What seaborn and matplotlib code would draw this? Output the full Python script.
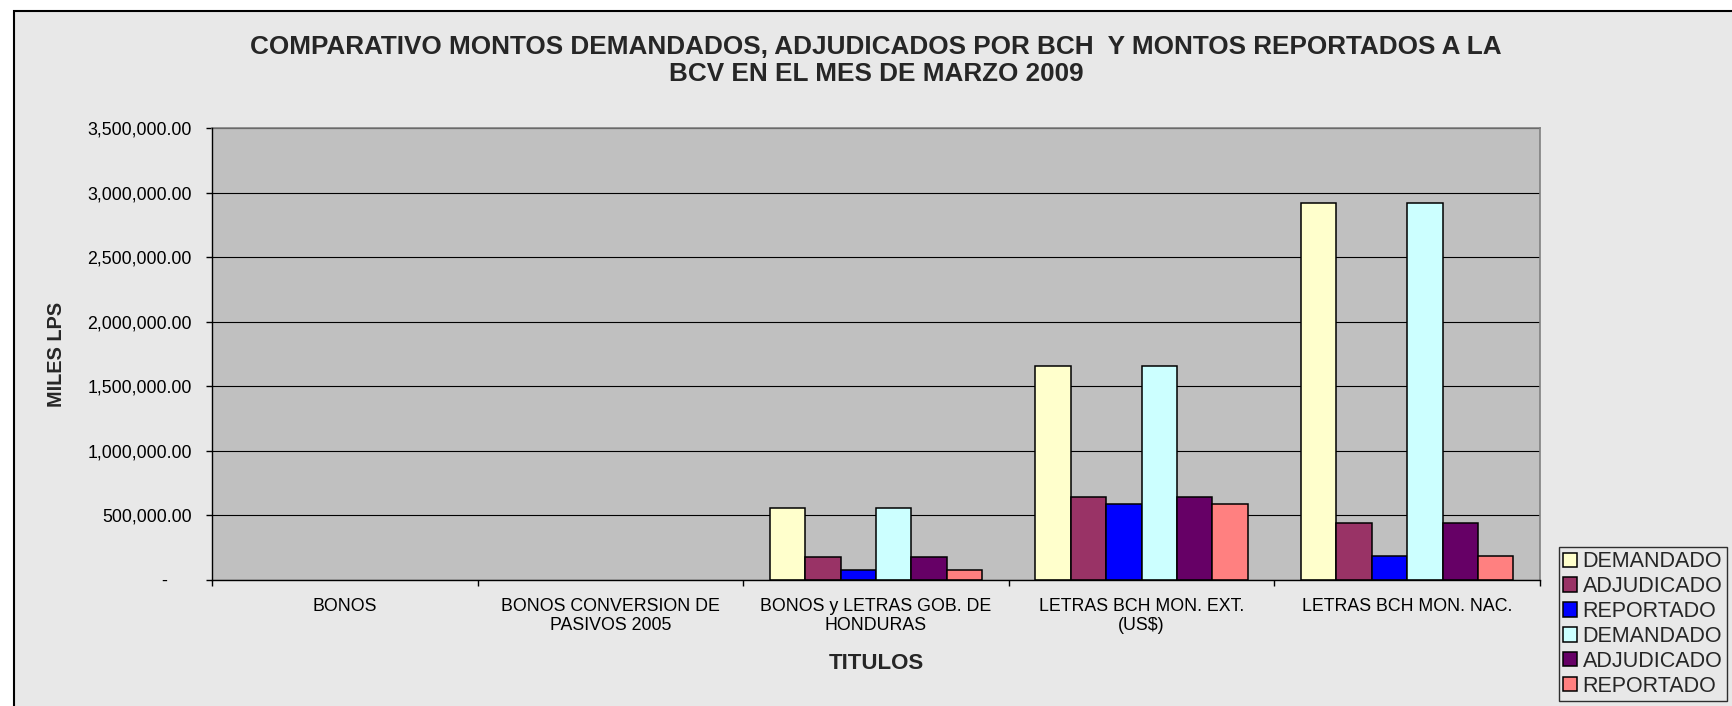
import numpy as np
import pandas as pd
import matplotlib
matplotlib.use("Agg")
import matplotlib.pyplot as plt
from matplotlib.patches import Rectangle, Patch
from matplotlib.ticker import FuncFormatter, MultipleLocator, FixedLocator
import seaborn as sns

# ── Data ──────────────────────────────────────────────────────
categories = [
    "BONOS",
    "BONOS CONVERSION DE\nPASIVOS 2005",
    "BONOS y LETRAS GOB. DE\nHONDURAS",
    "LETRAS BCH MON. EXT.\n(US$)",
    "LETRAS BCH MON. NAC.",
]
series_keys = ["dem_bch", "adj_bch", "rep_bch", "dem_bcv", "adj_bcv", "rep_bcv"]
legend_labels = ["DEMANDADO", "ADJUDICADO", "REPORTADO",
                 "DEMANDADO", "ADJUDICADO", "REPORTADO"]
series_colors = ["#FFFFCC", "#993366", "#0000FF", "#CCFFFF", "#660066", "#FF8080"]

demandado_bch = [0, 0, 555000, 1657000, 2918000]
adjudicado_bch = [0, 0, 176000, 645000, 439000]
reportado_bch = [0, 0, 75000, 586000, 186000]
demandado_bcv = [0, 0, 555000, 1657000, 2918000]
adjudicado_bcv = [0, 0, 176000, 645000, 439000]
reportado_bcv = [0, 0, 75000, 586000, 186000]

values = [demandado_bch, adjudicado_bch, reportado_bch,
          demandado_bcv, adjudicado_bcv, reportado_bcv]

rows = []
for key, vals in zip(series_keys, values):
    for cat, v in zip(categories, vals):
        rows.append({"titulo": cat, "serie": key, "monto": v})
df = pd.DataFrame(rows)

# ── Style ─────────────────────────────────────────────────────
sns.set_style("white")
plt.rcParams["font.family"] = ["Liberation Sans", "DejaVu Sans"]

W, H = 1733, 706
BG = "#E8E8E8"
fig = plt.figure(figsize=(W / 100, H / 100), dpi=100, facecolor="white")

# chart-area border (runs off the right / bottom edge)
fig.add_artist(Rectangle((14 / W, -0.05), 1.2, 1 - 11 / H + 0.05,
                         transform=fig.transFigure, facecolor=BG,
                         edgecolor="black", linewidth=1.5, zorder=0))

ax = fig.add_axes([212 / W, 1 - 580 / H, (1540 - 212) / W, (580 - 128) / H])
ax.set_facecolor("#C0C0C0")

sns.barplot(data=df, x="titulo", y="monto", hue="serie",
            order=categories, hue_order=series_keys,
            palette=dict(zip(series_keys, series_colors)), saturation=1,
            edgecolor="black", linewidth=1.1, width=0.8,
            legend=False, ax=ax, zorder=2)

# empty bars draw nothing in the original
for bar in ax.patches:
    if bar.get_height() == 0:
        bar.set_visible(False)

ax.set_ylim(0, 3500000)
ax.set_xlim(-0.5, len(categories) - 0.5)
ax.yaxis.set_major_locator(MultipleLocator(500000))
ax.yaxis.set_major_formatter(FuncFormatter(
    lambda v, p: "-     " if v == 0 else f"{v:,.2f}"))
ax.grid(axis="y", color="black", linewidth=0.8)
ax.set_axisbelow(True)

for side in ["top", "right"]:
    ax.spines[side].set_color("#808080")
    ax.spines[side].set_linewidth(1.2)
for side in ["left", "bottom"]:
    ax.spines[side].set_color("black")
    ax.spines[side].set_linewidth(1.0)
    ax.spines[side].set_zorder(3)

ax.tick_params(axis="y", which="major", left=True, length=4, width=1,
               color="black", pad=10.5, labelsize=12.8, labelcolor="black")
ax.tick_params(axis="x", which="major", bottom=False, length=0, pad=13,
               labelsize=12.8, labelcolor="black")
ax.xaxis.set_minor_locator(FixedLocator(np.arange(-0.5, len(categories), 1.0)))
ax.tick_params(axis="x", which="minor", bottom=True, length=4, width=1,
               color="black")
for lbl in ax.get_xticklabels():
    lbl.set_ha("center")
    lbl.set_linespacing(1.15)

ax.set_xlabel("TITULOS", fontsize=16, fontweight="bold")
ax.xaxis.set_label_coords(0.5, (580 - 663.5) / 452)
ax.xaxis.label.set_va("center")
ax.set_ylabel("MILES LPS", fontsize=14.3, fontweight="bold")
ax.yaxis.set_label_coords((57 - 212) / 1328, 0.5)
ax.yaxis.label.set_va("center")

fig.text(876 / W, 1 - 60.5 / H,
         "COMPARATIVO MONTOS DEMANDADOS, ADJUDICADOS POR BCH  Y MONTOS REPORTADOS A LA\n"
         "BCV EN EL MES DE MARZO 2009",
         ha="center", va="center", fontsize=18.8, fontweight="bold",
         linespacing=1.18)

handles = [Patch(facecolor=c, edgecolor="black", linewidth=1.1)
           for c in series_colors]
leg = fig.legend(handles, legend_labels, loc="upper left",
                 bbox_to_anchor=(1559 / W, 1 - 547 / H),
                 fontsize=15.5, frameon=True, fancybox=False,
                 handlelength=0.65, handleheight=0.65, handletextpad=0.25,
                 labelspacing=0.18, borderpad=0.2, borderaxespad=0)
leg.get_frame().set_edgecolor("black")
leg.get_frame().set_facecolor(BG)
leg.get_frame().set_linewidth(1.0)

fig.savefig("out.png", dpi=100, facecolor=fig.get_facecolor())
